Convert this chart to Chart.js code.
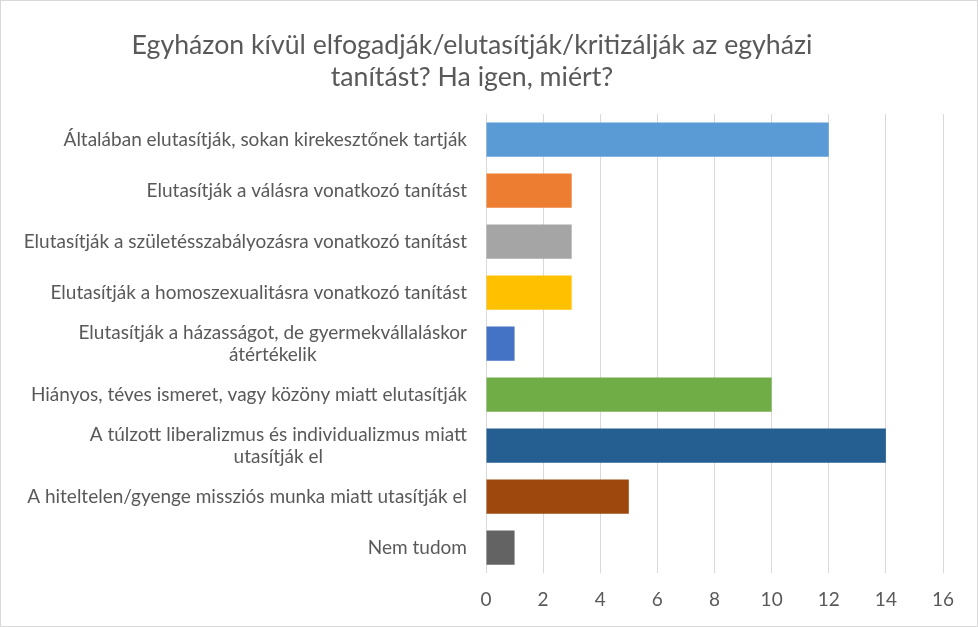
<!DOCTYPE html>
<html>
<head>
<meta charset="utf-8">
<script src="https://cdn.jsdelivr.net/npm/chart.js@4/dist/chart.umd.min.js"></script>
<style>
  body { margin: 0; background: #fff; }
  #wrap { width: 978px; height: 627px; box-sizing: border-box; border: 1px solid #d9d9d9; }
</style>
</head>
<body>
<div id="wrap"><canvas id="chart" width="976" height="625"></canvas></div>
<script>
// Chart data
const titleLines = ['Egyházon kívül elfogadják/elutasítják/kritizálják az egyházi', 'tanítást? Ha igen, miért?'];
const categories = [
    'Általában elutasítják, sokan kirekesztőnek tartják',
    'Elutasítják a válásra vonatkozó tanítást',
    'Elutasítják a születésszabályozásra vonatkozó tanítást',
    'Elutasítják a homoszexualitásra vonatkozó tanítást',
    ['Elutasítják a házasságot, de gyermekvállaláskor', 'átértékelik'],
    'Hiányos, téves ismeret, vagy közöny miatt elutasítják',
    ['A túlzott liberalizmus és individualizmus miatt', 'utasítják el'],
    'A hiteltelen/gyenge missziós munka miatt utasítják el',
    'Nem tudom'
];
const values = [12, 3, 3, 3, 1, 10, 14, 5, 1];
const barColors = ['#5B9BD5', '#ED7D31', '#A5A5A5', '#FFC000', '#4472C4', '#70AD47', '#255E91', '#9E480E', '#636363'];

const FONT = 'Lato, "Open Sans", sans-serif';
const TEXT = '#595959';
const LABEL_SIZE = 19;
const LABEL_PAD = 19;

// draw category labels so wrapped lines are centred under each other, like Excel
const categoryLabels = {
    id: 'categoryLabels',
    afterDraw(chart) {
        const y = chart.scales.y;
        const ctx = chart.ctx;
        ctx.save();
        ctx.font = LABEL_SIZE + 'px ' + FONT;
        ctx.fillStyle = TEXT;
        ctx.textAlign = 'center';
        ctx.textBaseline = 'middle';
        const lh = LABEL_SIZE * 1.15;
        chart.data.labels.forEach((lab, i) => {
            const lines = Array.isArray(lab) ? lab : [lab];
            const w = Math.max(...lines.map(l => ctx.measureText(l).width));
            const cx = y.right - LABEL_PAD - w / 2;
            const cy = y.getPixelForTick(i);
            lines.forEach((l, k) => {
                ctx.fillText(l, cx, cy + (k - (lines.length - 1) / 2) * lh);
            });
        });
        ctx.restore();
    }
};

const ctx = document.getElementById('chart').getContext('2d');
new Chart(ctx, {
    type: 'bar',
    data: {
        labels: categories,
        datasets: [{
            data: values,
            backgroundColor: barColors,
            barPercentage: 0.67,
            categoryPercentage: 1.0
        }]
    },
    options: {
        indexAxis: 'y',
        responsive: false,
        animation: false,
        layout: { padding: { top: 12, right: 34, bottom: 0, left: 0 } },
        plugins: {
            legend: { display: false },
            tooltip: { enabled: false },
            title: {
                display: true,
                text: titleLines,
                color: TEXT,
                font: { family: FONT, size: 26.7, weight: 'normal' },
                lineHeight: 1.2,
                padding: { top: 16, bottom: 21 }
            }
        },
        scales: {
            x: {
                min: 0,
                max: 16,
                ticks: { stepSize: 2, color: TEXT, padding: 15, font: { family: FONT, size: 19 } },
                grid: { color: '#d9d9d9', drawTicks: false },
                border: { display: false }
            },
            y: {
                ticks: { display: false },
                grid: { display: false },
                border: { display: false },
                afterFit(scale) { scale.width = 485; }
            }
        }
    },
    plugins: [categoryLabels]
});
</script>
</body>
</html>
